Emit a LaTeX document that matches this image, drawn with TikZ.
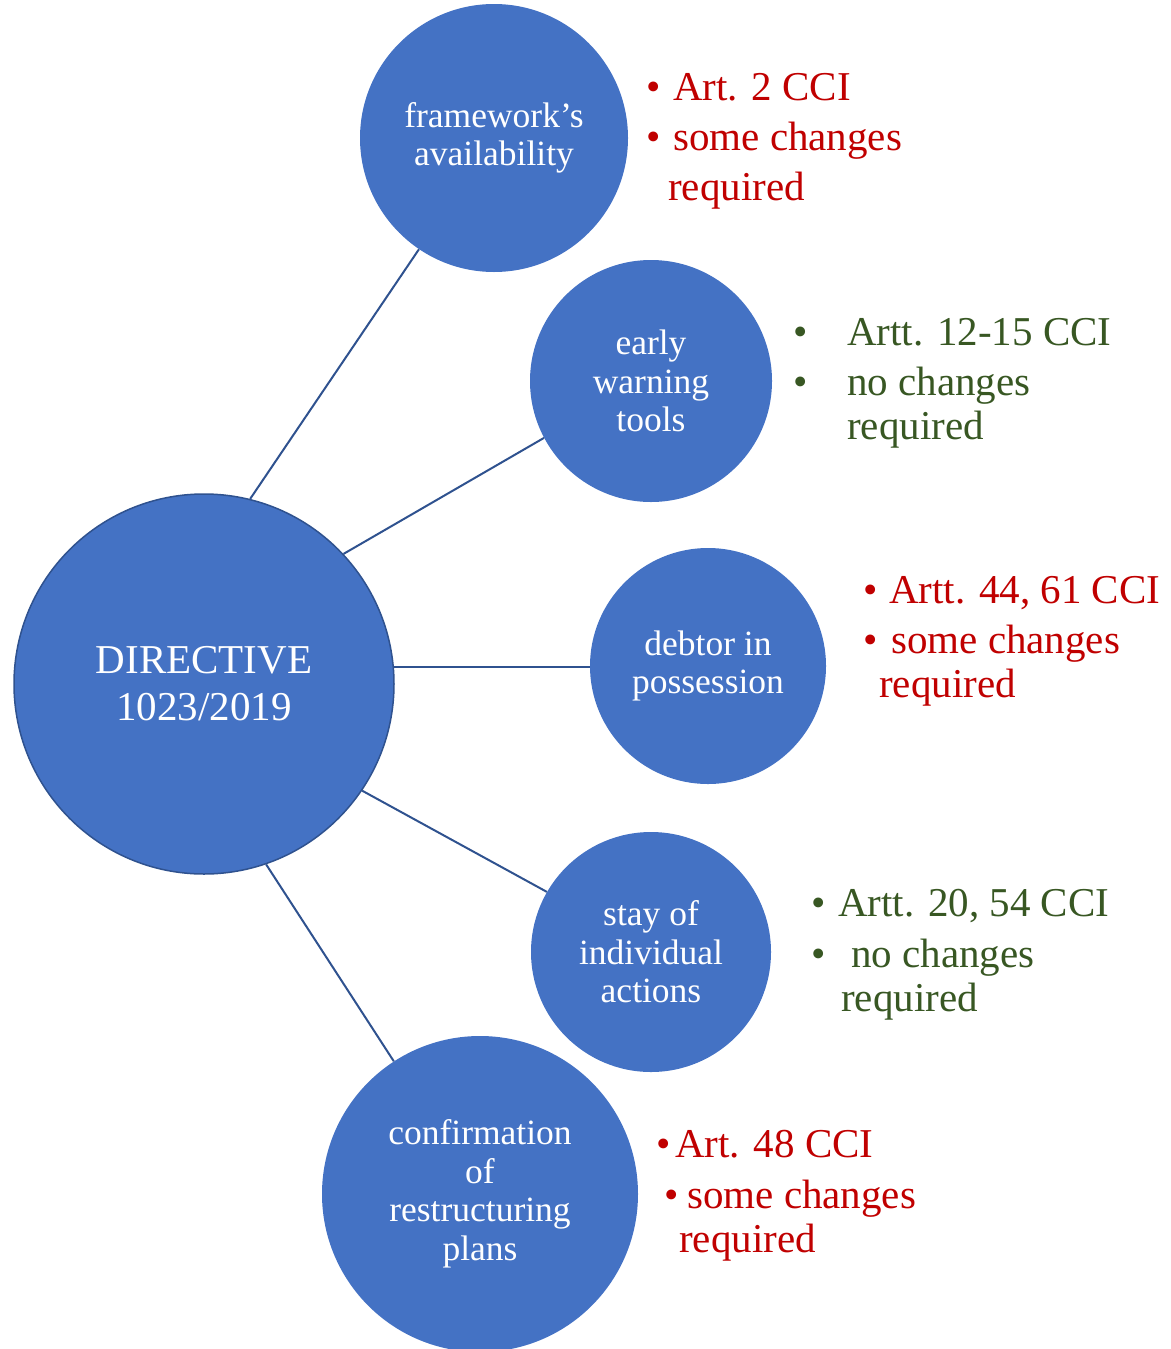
\documentclass[tikz,border=0pt]{standalone}
\usepackage{fontspec}
\setmainfont{Liberation Serif}
\definecolor{cfill}{HTML}{4472C4}
\definecolor{cedge}{HTML}{2F528F}
\definecolor{cred}{HTML}{C00000}
\definecolor{cgreen}{HTML}{385723}
\begin{document}
\begin{tikzpicture}[x=1pt,y=-1pt,
  bubble/.style={circle,fill=cfill,inner sep=0pt,text=white,align=center,font=\fontsize{35.5}{38.5}\selectfont},
  link/.style={draw=cedge,line width=2pt},
  redtxt/.style={anchor=base west,inner sep=0pt,text=cred,font=\fontsize{41}{44}\selectfont},
  greentxt/.style={anchor=base west,inner sep=0pt,text=cgreen,font=\fontsize{41}{44}\selectfont}]
\useasboundingbox (0,0) rectangle (1170,1349);
\node[bubble,draw=cedge,line width=1.5pt,minimum size=380pt,font=\fontsize{41}{47}\selectfont] (main) at (204,684) {DIRECTIVE\\1023/2019};
\node[bubble,minimum size=268pt] (fw) at (494,138) {framework's\\availability};
\node[bubble,minimum size=242pt] (ew) at (651,381) {early\\warning\\tools};
\node[bubble,minimum size=236pt] (dp) at (708,666) {debtor in\\possession};
\node[bubble,minimum size=240pt] (st) at (651,952) {stay of\\individual\\actions};
\node[bubble,minimum size=316pt] (cr) at (480,1194) {confirmation\\of\\restructuring\\plans};
\draw[link] (main.76) -- (fw.236);
\draw[link] (main.43.5) -- (ew.208.6);
\draw[link] (main.5.4) -- (dp.west |- main.5.4);
\draw[link] (main.-34) -- (st.150.5);
\draw[link] (main.-71) -- (cr.123);
% framework
\node[redtxt] (fwb1) at (646,100) {\textbullet};
\node[redtxt] (fw1) at (673,100) {Art. 2 CCI};
\node[redtxt] (fwb2) at (646,150) {\textbullet};
\node[redtxt] (fw2) at (673,150) {some changes};
\node[redtxt] (fw3) at (668,200) {required};
% early warning
\node[greentxt] (ewb1) at (793,345) {\textbullet};
\node[greentxt] (ew1) at (847,345) {Artt. 12-15 CCI};
\node[greentxt] (ewb2) at (793,395) {\textbullet};
\node[greentxt] (ew2) at (847,395) {no changes};
\node[greentxt] (ew3) at (847,439) {required};
% debtor
\node[redtxt] (dpb1) at (863,603) {\textbullet};
\node[redtxt] (dp1) at (889,603) {Artt. 44, 61 CCI};
\node[redtxt] (dpb2) at (863,653) {\textbullet};
\node[redtxt] (dp2) at (891,653) {some changes};
\node[redtxt] (dp3) at (879,697) {required};
% stay
\node[greentxt] (stb1) at (811,916) {\textbullet};
\node[greentxt] (st1) at (838,916) {Artt. 20, 54 CCI};
\node[greentxt] (stb2) at (811,967) {\textbullet};
\node[greentxt] (st2) at (851,967) {no changes};
\node[greentxt] (st3) at (841,1011) {required};
% confirmation
\node[redtxt] (crb1) at (656,1157) {\textbullet};
\node[redtxt] (cr1) at (675,1157) {Art. 48 CCI};
\node[redtxt] (crb2) at (664,1208) {\textbullet};
\node[redtxt] (cr2) at (687,1208) {some changes};
\node[redtxt] (cr3) at (679,1252) {required};
\end{tikzpicture}
\end{document}
